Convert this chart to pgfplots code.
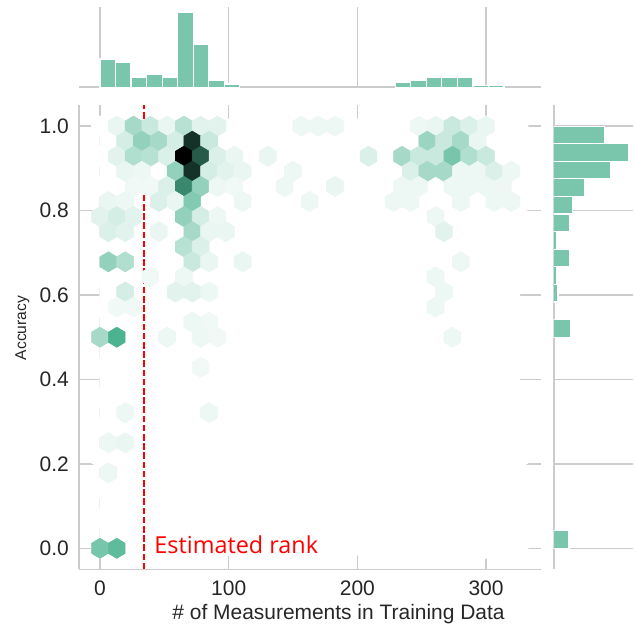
\documentclass[border=0pt]{standalone}
\usepackage{pgfplots}
\pgfplotsset{compat=1.18}
\usepackage{fontspec}
\setmainfont{Liberation Sans}
\newfontfamily\annfont{Open Sans}
\definecolor{gridgray}{HTML}{CCCCCC}
\definecolor{labelgray}{HTML}{262626}
\definecolor{histgreen}{RGB}{121,198,172}
\pgfdeclareplotmark{hexm}{%
  \pgfpathmoveto{\pgfqpoint{4.2pt}{-2.513pt}}%
  \pgfpathlineto{\pgfqpoint{4.2pt}{2.513pt}}%
  \pgfpathlineto{\pgfqpoint{0pt}{5.026pt}}%
  \pgfpathlineto{\pgfqpoint{-4.2pt}{2.513pt}}%
  \pgfpathlineto{\pgfqpoint{-4.2pt}{-2.513pt}}%
  \pgfpathlineto{\pgfqpoint{0pt}{-5.026pt}}%
  \pgfpathclose
  \pgfusepathqfillstroke}
\begin{document}
\begin{tikzpicture}
\useasboundingbox (0,0) rectangle (317.5pt,314.5pt);
% ---------------- main hexbin axis ----------------
\begin{axis}[
  at={(39.5pt,29.8pt)}, anchor=south west, scale only axis,
  width=230.75pt, height=232.2pt,
  xmin=-16.3, xmax=342.3, ymin=-0.05, ymax=1.05,
  axis x line*=bottom, axis y line*=left,
  axis line style={draw=gridgray, line width=0.85pt, -},
  xtick={0,100,200,300}, ytick={0,0.2,0.4,0.6,0.8,1.0},
  major tick length=0pt,
  grid=major, major grid style={draw=gridgray, line width=0.65pt},
  /pgf/number format/assume math mode=true,
  tick label style={font=\fontsize{10.5}{12}\selectfont, text=labelgray, inner sep=0pt},
  xticklabel style={yshift=-5.5pt},
  yticklabel style={xshift=-4.85pt, /pgf/number format/.cd, fixed, fixed zerofill, precision=1},
  colormap={hexmap}{rgb255=(255,255,255) rgb255=(76,179,145) rgb255=(0,0,0)},
  point meta min=0, point meta max=1,
]
% empty (count 0) hexagons of the grid are white and hide the grid lines
\foreach \i in {0,...,25}{\foreach \j in {0,...,14}{%
  \pgfmathsetmacro\hx{13.04*\i}\pgfmathsetmacro\hy{\j/14}%
  \edef\tmp{\noexpand\filldraw[white, line width=0.5pt] (axis cs:\hx,\hy) ++(4.2pt,-2.513pt) -- ++(0pt,5.026pt) -- ++(-4.2pt,2.513pt) -- ++(-4.2pt,-2.513pt) -- ++(0pt,-5.026pt) -- ++(4.2pt,-2.513pt) -- cycle;}%
  \tmp}}
\foreach \i in {0,...,24}{\foreach \j in {0,...,13}{%
  \pgfmathsetmacro\hx{13.04*(\i+0.5)}\pgfmathsetmacro\hy{(\j+0.5)/14}%
  \edef\tmp{\noexpand\filldraw[white, line width=0.5pt] (axis cs:\hx,\hy) ++(4.2pt,-2.513pt) -- ++(0pt,5.026pt) -- ++(-4.2pt,2.513pt) -- ++(-4.2pt,-2.513pt) -- ++(0pt,-5.026pt) -- ++(4.2pt,-2.513pt) -- cycle;}%
  \tmp}}
\addplot[scatter, only marks, mark=hexm, point meta=explicit,
  scatter/use mapped color={draw=mapped color, fill=mapped color},
  mark options={line width=0.3pt}]
  table[x=x, y=y, meta=v] {
x y v
13.04 1 0.06
26.08 1 0.25
39.12 1 0.15
52.16 1 0.06
65.2 1 0.2
78.24 1 0.08
91.28 1 0.08
156.48 1 0.05
169.52 1 0.05
182.56 1 0.05
247.76 1 0.05
260.8 1 0.06
273.84 1 0.15
286.88 1 0.1
299.92 1 0.06
19.56 0.9643 0.12
32.6 0.9643 0.3
45.64 0.9643 0.25
58.68 0.9643 0.12
71.72 0.9643 0.86
84.76 0.9643 0.15
254.28 0.9643 0.28
267.32 0.9643 0.15
280.36 0.9643 0.25
293.4 0.9643 0.06
13.04 0.9286 0.08
26.08 0.9286 0.22
39.12 0.9286 0.2
52.16 0.9286 0.1
65.2 0.9286 1.0
78.24 0.9286 0.75
91.28 0.9286 0.1
104.32 0.9286 0.06
130.4 0.9286 0.06
208.64 0.9286 0.1
234.72 0.9286 0.25
247.76 0.9286 0.15
260.8 0.9286 0.15
273.84 0.9286 0.38
286.88 0.9286 0.22
299.92 0.9286 0.15
19.56 0.8929 0.06
32.6 0.8929 0.05
58.68 0.8929 0.3
71.72 0.8929 0.86
84.76 0.8929 0.12
97.8 0.8929 0.08
110.84 0.8929 0.06
149.96 0.8929 0.05
241.24 0.8929 0.1
254.28 0.8929 0.25
267.32 0.8929 0.25
280.36 0.8929 0.05
293.4 0.8929 0.05
306.44 0.8929 0.1
319.48 0.8929 0.05
26.08 0.8571 0.04
39.12 0.8571 0.04
52.16 0.8571 0.1
65.2 0.8571 0.62
78.24 0.8571 0.3
91.28 0.8571 0.05
104.32 0.8571 0.04
143.44 0.8571 0.05
182.56 0.8571 0.06
234.72 0.8571 0.05
247.76 0.8571 0.05
273.84 0.8571 0.05
286.88 0.8571 0.05
299.92 0.8571 0.05
312.96 0.8571 0.05
6.52 0.8214 0.06
19.56 0.8214 0.05
45.64 0.8214 0.1
58.68 0.8214 0.06
71.72 0.8214 0.35
110.84 0.8214 0.05
163 0.8214 0.05
228.2 0.8214 0.05
241.24 0.8214 0.05
280.36 0.8214 0.05
306.44 0.8214 0.05
319.48 0.8214 0.05
0 0.7857 0.08
13.04 0.7857 0.12
26.08 0.7857 0.08
65.2 0.7857 0.3
78.24 0.7857 0.12
91.28 0.7857 0.05
260.8 0.7857 0.05
6.52 0.75 0.1
19.56 0.75 0.08
45.64 0.75 0.06
71.72 0.75 0.25
84.76 0.75 0.06
97.8 0.75 0.06
267.32 0.75 0.08
65.2 0.7143 0.2
78.24 0.7143 0.1
6.52 0.6786 0.3
19.56 0.6786 0.22
71.72 0.6786 0.15
84.76 0.6786 0.06
110.84 0.6786 0.06
280.36 0.6786 0.05
39.12 0.6429 0.04
65.2 0.6429 0.05
260.8 0.6429 0.05
19.56 0.6071 0.12
58.68 0.6071 0.08
71.72 0.6071 0.08
84.76 0.6071 0.05
267.32 0.6071 0.05
13.04 0.5714 0.04
26.08 0.5714 0.04
260.8 0.5714 0.05
71.72 0.5357 0.05
84.76 0.5357 0.04
0 0.5 0.25
13.04 0.5 0.5
52.16 0.5 0.05
78.24 0.5 0.05
91.28 0.5 0.04
273.84 0.5 0.05
78.24 0.4286 0.04
19.56 0.3214 0.05
84.76 0.3214 0.05
6.52 0.25 0.05
19.56 0.25 0.06
6.52 0.1786 0.05
0 0 0.38
13.04 0 0.45
};
\addplot[red, line width=1pt, dash pattern=on 3.3pt off 1.3pt] coordinates {(34.5,-0.05) (34.5,1.05)};
\node[anchor=base west, inner sep=0pt, text=red, font=\annfont\fontsize{11.7}{14}\selectfont] at (axis cs:42,-0.0118) {Estimated rank};
\end{axis}
% ---------------- top marginal histogram ----------------
\begin{axis}[
  at={(39.5pt,270.85pt)}, anchor=south west, scale only axis,
  width=230.75pt, height=40.15pt,
  xmin=-16.3, xmax=342.3, ymin=0, ymax=80.3,
  axis x line*=bottom, axis y line=none,
  axis line style={draw=gridgray, line width=0.85pt, -},
  xtick={0,100,200,300}, xticklabels={}, ytick=\empty,
  major tick length=0pt,
  xmajorgrids, major grid style={draw=gridgray, line width=0.65pt},
]
\addplot[ybar interval, fill=histgreen, draw=white, line width=0.6pt] coordinates {
(0,28.3) (12.07,24.6) (24.15,10.3) (36.22,13.0) (48.30,9.6) (60.37,75.3) (72.44,42.6) (84.52,6.6) (96.59,3.3) (108.67,0)};
\addplot[ybar interval, fill=histgreen, draw=white, line width=0.6pt] coordinates {
(229.41,4.6) (241.48,7.3) (253.56,9.6) (265.63,10.3) (277.70,9.6) (289.78,1.6) (301.85,2.3) (313.93,0)};
\end{axis}
% ---------------- right marginal histogram ----------------
\begin{axis}[
  at={(276.85pt,29.8pt)}, anchor=south west, scale only axis,
  width=39.5pt, height=232.2pt,
  xmin=0, xmax=79, ymin=-0.05, ymax=1.05,
  axis y line*=left, axis x line=none,
  axis line style={draw=gridgray, line width=0.85pt, -},
  ytick={0,0.2,0.4,0.6,0.8,1.0}, yticklabels={}, xtick=\empty,
  major tick length=0pt,
  ymajorgrids, major grid style={draw=gridgray, line width=0.65pt},
]
\addplot[xbar interval, fill=histgreen, draw=white, line width=0.6pt] coordinates {
(4.3,0.5833) (2.6,0.625) (16,0.6667) (3.3,0.7083) (16,0.75) (18.6,0.7917) (30.6,0.8333) (56.6,0.875) (74.6,0.9167) (50.6,0.9583) (0,1.0)};
\addplot[xbar interval, fill=histgreen, draw=white, line width=0.6pt] coordinates {(17.3,0.5) (0,0.5417)};
\addplot[xbar interval, fill=histgreen, draw=white, line width=0.6pt] coordinates {(15.3,0) (0,0.0417)};
\end{axis}
% ---------------- axis labels ----------------
\node[anchor=base, inner sep=0pt, text=labelgray, font=\fontsize{10.47}{12}\selectfont] at (169.25pt,5pt) {\# of Measurements in Training Data};
\node[rotate=90, anchor=base, inner sep=0pt, text=labelgray, font=\fontsize{7.8}{9}\selectfont] at (13pt,150.5pt) {Accuracy};
\end{tikzpicture}
\end{document}
